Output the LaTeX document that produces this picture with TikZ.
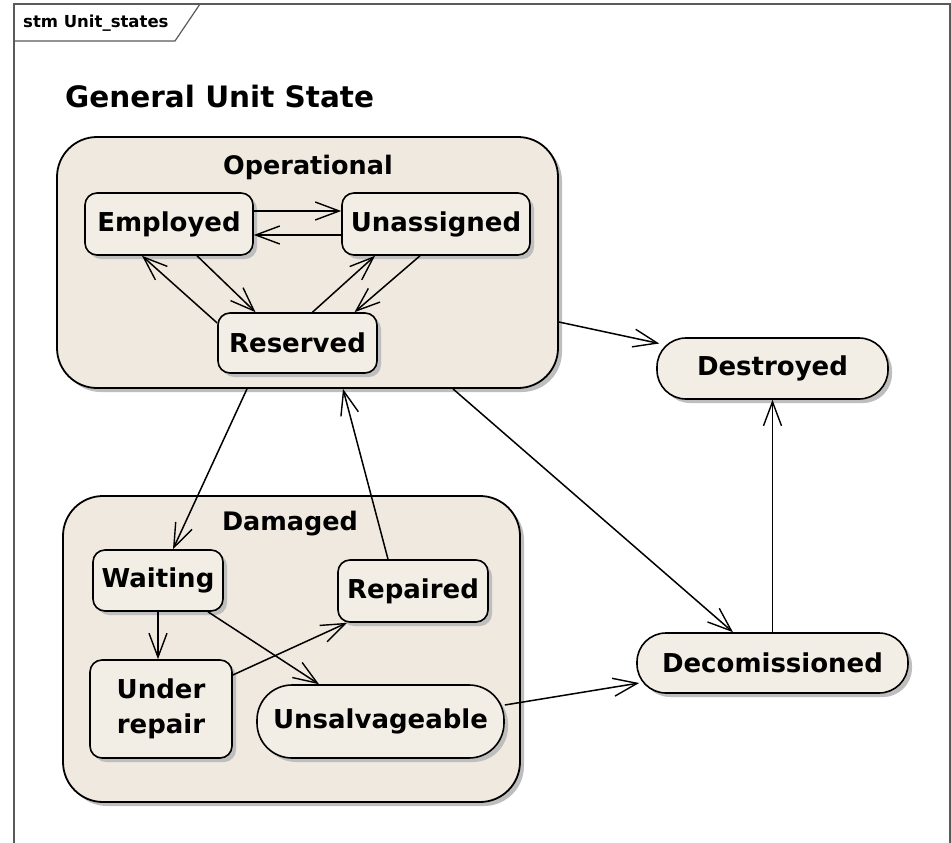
\documentclass[tikz,border=0pt]{standalone}
\usepackage{fontspec}
\setmainfont{DejaVu Sans}
\usetikzlibrary{arrows.meta,shadows}
\definecolor{stfill}{RGB}{243,238,229}
\definecolor{cofill}{RGB}{239,233,223}
\definecolor{shadowc}{RGB}{190,190,190}
\definecolor{framec}{RGB}{90,90,90}
\tikzset{
  shad/.style={drop shadow={shadow xshift=4pt,shadow yshift=-4pt,fill=shadowc,opacity=1}},
  composite/.style={draw=black,line width=1.8pt,fill=cofill,rounded corners=40pt,shad,inner sep=0pt},
  statebox/.style={draw=black,line width=1.6pt,fill=stfill,rounded corners=12pt,shad,inner sep=0pt,
     font=\fontsize{26}{35}\selectfont\bfseries,align=center},
  stadium/.style={statebox,rounded corners=#1},
  conn/.style={line width=1.5pt,-{Straight Barb[length=24pt,width=18pt,line width=1.4pt]}},
  complabel/.style={font=\fontsize{25.5}{30}\selectfont\bfseries,anchor=base},
}
\begin{document}
\begin{tikzpicture}[x=1pt,y=-1pt]
\useasboundingbox (0,0) rectangle (951,843);
\fill[white] (0,0) rectangle (951,843);
% frame
\draw[framec,line width=1.5pt] (14,843) -- (14,4) -- (950,4) -- (950,843);
\draw[framec,line width=1.2pt] (200,4) -- (175,41) -- (14,41);
\node[anchor=base west,font=\fontsize{16.5}{19}\selectfont\bfseries,inner sep=0pt] (tab) at (23,28) {stm Unit\_states};
% title
\node[anchor=base west,font=\fontsize{29.5}{34}\selectfont\bfseries,inner sep=0pt] (title) at (65,107) {General Unit State};
% composites
\node[composite,minimum width=501pt,minimum height=251pt] (op) at (307.5,262.5) {};
\node[complabel] (oplab) at (308,174) {Operational};
\node[composite,minimum width=457pt,minimum height=306pt] (dam) at (291.5,649) {};
\node[complabel] (damlab) at (290,530) {Damaged};
% states
\node[statebox,minimum width=168pt,minimum height=62pt] (emp) at (169,224) {Employed};
\node[statebox,minimum width=188pt,minimum height=62pt] (una) at (436,224) {Unassigned};
\node[statebox,minimum width=159pt,minimum height=60pt] (res) at (297.5,343) {Reserved};
\node[statebox,minimum width=130pt,minimum height=61pt] (wait) at (158,580.5) {Waiting};
\node[statebox,minimum width=150pt,minimum height=62pt] (rep) at (413,591) {Repaired};
\node[statebox,minimum width=142pt,minimum height=98pt] (und) at (161,709) {Under\\repair};
\node[stadium=35pt,minimum width=247pt,minimum height=73pt] (uns) at (380.5,721.5) {Unsalvageable};
\node[stadium=29pt,minimum width=231pt,minimum height=61pt] (des) at (772.5,368.5) {Destroyed};
\node[stadium=29pt,minimum width=271pt,minimum height=60pt] (dec) at (772.5,663) {Decomissioned};
% transitions inside Operational
\draw[conn] ([yshift=13pt]emp.east) -- ([yshift=13pt]una.west);
\draw[conn] ([yshift=-11pt]una.west) -- ([yshift=-11pt]emp.east);
\draw[conn] ([xshift=28pt]emp.south) -- ([xshift=-42pt]res.north);
\draw[conn] ([yshift=20pt]res.west) -- ([xshift=-27pt]emp.south);
\draw[conn] ([xshift=15pt]res.north) -- ([xshift=-61pt]una.south);
\draw[conn] ([xshift=-16pt]una.south) -- ([xshift=57pt]res.north);
% between composites
\draw[conn] ([xshift=-60.5pt]op.south) -- ([xshift=15pt]wait.north);
\draw[conn] ([xshift=-25pt]rep.north) -- ([xshift=35.5pt]op.south);
\draw[conn] ([yshift=-59.5pt]op.east) -- ([xshift=3pt,yshift=25pt]des.west);
\draw[conn] ([xshift=145.5pt]op.south) -- ([xshift=-39.5pt]dec.north);
\draw[conn] (dec.north -| des.south) -- (des.south);
\draw[conn] ([yshift=16.5pt]uns.east) -- ([xshift=3pt,yshift=-20pt]dec.west);
% inside Damaged
\draw[conn] (wait.south) -- (wait.south |- und.north);
\draw[conn] ([xshift=50pt]wait.south) -- ([xshift=-61.5pt]uns.north);
\draw[conn] ([yshift=34pt]und.east) -- ([xshift=-66pt]rep.south);
\end{tikzpicture}
\end{document}
